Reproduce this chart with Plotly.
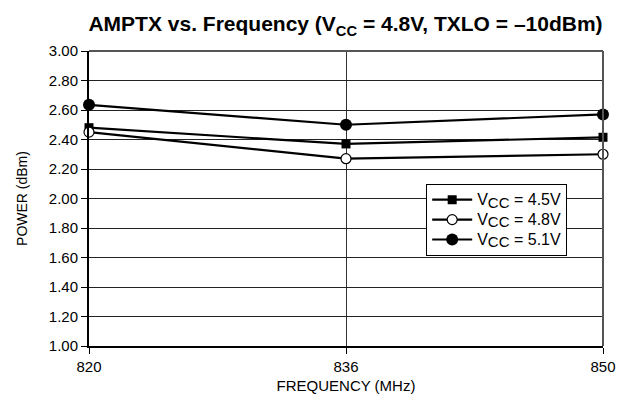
import plotly.graph_objects as go

freq = ["820", "836", "850"]
vcc45 = [2.48, 2.37, 2.415]
vcc48 = [2.45, 2.27, 2.30]
vcc51 = [2.635, 2.50, 2.57]
y_ticks = [1.0, 1.2, 1.4, 1.6, 1.8, 2.0, 2.2, 2.4, 2.6, 2.8, 3.0]

FONT = "Liberation Sans, Arial, sans-serif"


def vcc_label(v):
    return ("<span style='font-size:16px'>V</span><sub><span style='font-size:15px'>CC</span></sub>"
            "<span style='font-size:16px'> = %s</span>" % v)


fig = go.Figure()
fig.add_trace(go.Scatter(x=freq, y=vcc45, mode="lines+markers", name=vcc_label("4.5V"),
                         line=dict(color="black", width=2.2),
                         marker=dict(symbol="square", size=9, color="black"), cliponaxis=False))
fig.add_trace(go.Scatter(x=freq, y=vcc48, mode="lines+markers", name=vcc_label("4.8V"),
                         line=dict(color="black", width=2.2),
                         marker=dict(symbol="circle", size=10, color="white", line=dict(color="black", width=1.2)),
                         cliponaxis=False))
fig.add_trace(go.Scatter(x=freq, y=vcc51, mode="lines+markers", name=vcc_label("5.1V"),
                         line=dict(color="black", width=2.2),
                         marker=dict(symbol="circle", size=12, color="black"), cliponaxis=False))

fig.update_layout(
    width=617, height=396,
    margin=dict(l=89, r=14, t=51, b=50),
    paper_bgcolor="white", plot_bgcolor="white",
    font=dict(family=FONT, color="black", size=15),
    title=dict(text="<b>AMPTX vs. Frequency (V<sub>CC</sub> = 4.8V, TXLO = \u201310dBm)</b>",
               x=0.56, xanchor="center", y=0.94, yanchor="middle",
               font=dict(size=21, family=FONT, color="black")),
    showlegend=True,
    legend=dict(x=0.656, y=0.55, xanchor="left", yanchor="top",
                bgcolor="white", bordercolor="black", borderwidth=1,
                font=dict(size=13, family=FONT, color="black"),
                tracegroupgap=0, itemwidth=40),
)
fig.update_xaxes(type="category", range=[0, 2], showgrid=True, gridcolor="#333", gridwidth=1,
                 showline=True, linecolor="black", linewidth=2, mirror=False,
                 ticks="outside", ticklen=6, tickcolor="black", automargin=False,
                 tickfont=dict(size=15),
                 title=dict(text="FREQUENCY (MHz)", font=dict(size=15, family=FONT), standoff=6),
                 zeroline=False)
fig.update_yaxes(range=[1.0, 3.0], tickvals=y_ticks, tickformat=".2f",
                 showgrid=True, gridcolor="#222", gridwidth=1,
                 showline=True, linecolor="black", linewidth=2,
                 ticks="outside", ticklen=6, tickcolor="black",
                 tickfont=dict(size=15),
                 title=dict(text="POWER (dBm)", font=dict(size=14, family=FONT), standoff=18),
                 zeroline=False)
# top and right frame lines
fig.add_shape(type="line", xref="paper", yref="paper", x0=0, x1=1, y0=1, y1=1,
              line=dict(color="#555", width=2))
fig.add_shape(type="line", xref="paper", yref="paper", x0=1, x1=1, y0=0, y1=1,
              line=dict(color="#555", width=2))

fig.write_html("out.html")
